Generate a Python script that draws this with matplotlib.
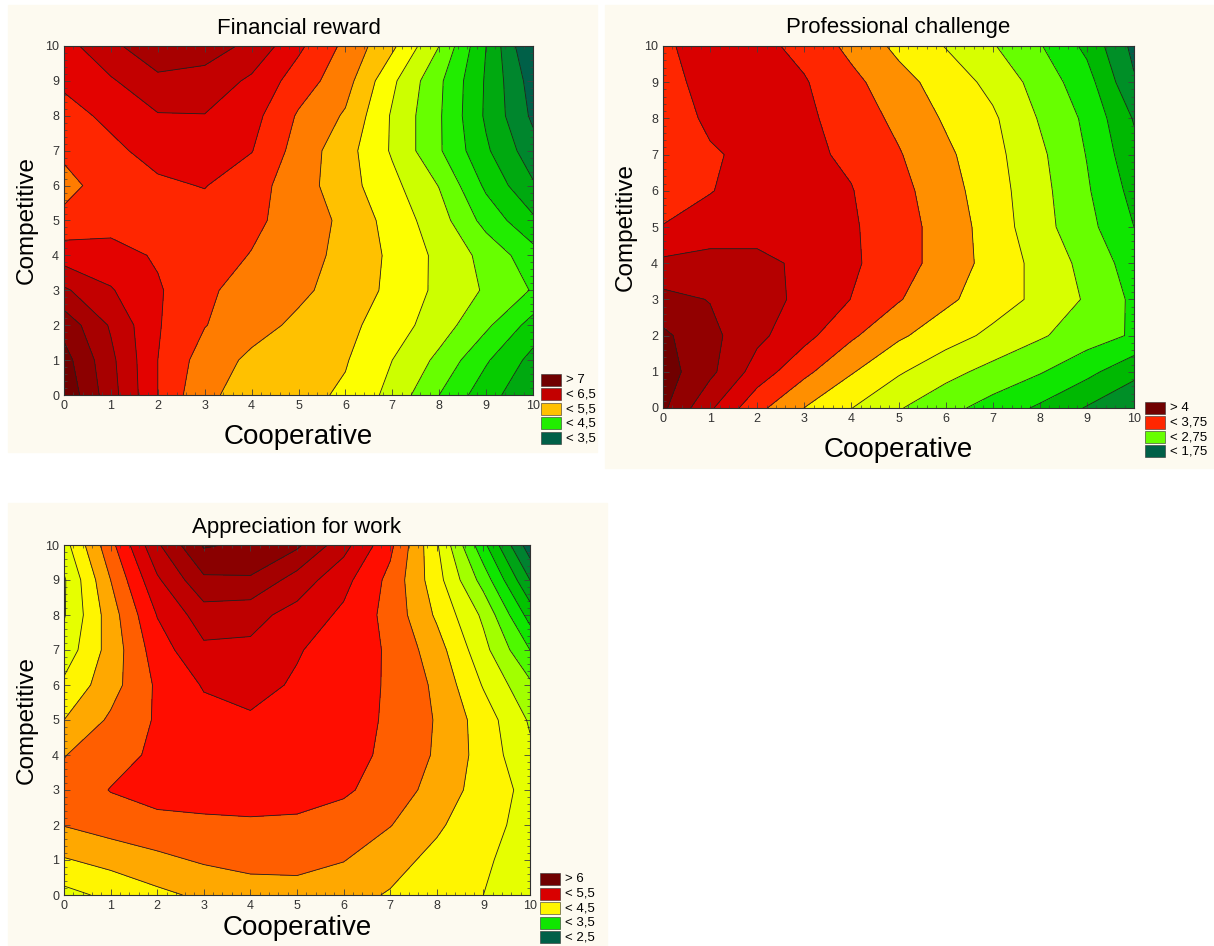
import numpy as np
import matplotlib.pyplot as plt
from matplotlib.colors import LinearSegmentedColormap
from matplotlib.patches import Rectangle
from matplotlib.ticker import MultipleLocator

plt.rcParams['font.family'] = ['Liberation Sans', 'DejaVu Sans']

# grid: columns = Cooperative 0..10, rows = Competitive 0..10
coop = [0, 1, 2, 3, 4, 5, 6, 7, 8, 9, 10]
comp = [0, 1, 2, 3, 4, 5, 6, 7, 8, 9, 10]

financial = [
    [7.20, 6.60, 6.00, 5.54, 5.42, 5.33, 5.21, 4.92, 4.50, 4.10, 3.80],
    [7.10, 6.56, 6.00, 5.63, 5.45, 5.36, 5.27, 5.00, 4.69, 4.28, 3.92],
    [6.91, 6.47, 6.02, 5.76, 5.59, 5.45, 5.32, 5.12, 4.87, 4.55, 4.15],
    [6.54, 6.27, 6.03, 5.79, 5.66, 5.55, 5.40, 5.19, 4.94, 4.72, 4.48],
    [6.13, 6.10, 5.97, 5.85, 5.74, 5.60, 5.43, 5.20, 4.94, 4.67, 4.35],
    [5.83, 5.90, 5.90, 5.90, 5.80, 5.65, 5.44, 5.15, 4.86, 4.41, 4.05],
    [5.65, 5.90, 5.96, 6.01, 5.85, 5.62, 5.35, 5.07, 4.74, 4.20, 3.78],
    [5.81, 5.95, 6.08, 6.12, 6.01, 5.65, 5.35, 4.97, 4.53, 4.04, 3.60],
    [5.92, 6.05, 6.23, 6.24, 6.09, 5.72, 5.47, 4.97, 4.53, 3.96, 3.45],
    [6.04, 6.22, 6.45, 6.42, 6.20, 5.88, 5.60, 5.05, 4.55, 3.97, 3.38],
    [6.15, 6.45, 6.65, 6.60, 6.45, 6.05, 5.69, 5.30, 4.75, 4.00, 3.20],
]

professional = [
    [4.55, 4.04, 3.57, 3.247, 3.005, 2.77, 2.58, 2.40, 2.21, 1.98, 1.78],
    [4.62, 4.31, 3.89, 3.56, 3.27, 3.03, 2.83, 2.67, 2.52, 2.32, 2.07],
    [4.55, 4.32, 4.06, 3.83, 3.54, 3.29, 3.11, 2.94, 2.78, 2.62, 2.47],
    [4.33, 4.24, 4.10, 3.94, 3.745, 3.52, 3.30, 3.12, 2.94, 2.72, 2.45],
    [4.05, 4.10, 4.08, 3.94, 3.79, 3.61, 3.39, 3.16, 2.92, 2.67, 2.38],
    [3.76, 3.85, 3.88, 3.87, 3.78, 3.61, 3.39, 3.14, 2.84, 2.58, 2.25],
    [3.62, 3.74, 3.85, 3.83, 3.76, 3.58, 3.35, 3.11, 2.83, 2.53, 2.17],
    [3.60, 3.72, 3.82, 3.80, 3.71, 3.52, 3.30, 3.08, 2.80, 2.49, 2.08],
    [3.60, 3.80, 3.85, 3.80, 3.64, 3.44, 3.22, 3.04, 2.73, 2.45, 1.98],
    [3.68, 3.82, 3.85, 3.77, 3.57, 3.34, 3.14, 2.93, 2.65, 2.35, 1.78],
    [3.72, 3.83, 3.82, 3.68, 3.43, 3.19, 2.99, 2.77, 2.52, 2.19, 1.68],
]

appreciation = [
    [3.92, 4.06, 4.19, 4.30, 4.38, 4.40, 4.33, 4.23, 4.11, 4.00, 3.88],
    [4.23, 4.33, 4.44, 4.53, 4.58, 4.58, 4.51, 4.34, 4.18, 4.03, 3.90],
    [4.51, 4.61, 4.67, 4.69, 4.71, 4.70, 4.63, 4.51, 4.29, 4.08, 3.92],
    [4.58, 4.76, 4.85, 4.88, 4.88, 4.86, 4.79, 4.63, 4.41, 4.13, 3.93],
    [4.49, 4.65, 4.80, 4.90, 4.92, 4.92, 4.85, 4.69, 4.47, 4.15, 3.80],
    [4.25, 4.54, 4.78, 4.92, 4.97, 4.92, 4.84, 4.72, 4.48, 4.13, 3.72],
    [4.05, 4.40, 4.79, 5.02, 5.08, 4.97, 4.87, 4.72, 4.45, 3.98, 3.55],
    [3.85, 4.35, 4.88, 5.20, 5.20, 5.02, 4.88, 4.72, 4.36, 3.83, 3.25],
    [3.73, 4.38, 5.01, 5.38, 5.33, 5.16, 4.95, 4.67, 4.21, 3.70, 2.90],
    [3.72, 4.50, 5.21, 5.70, 5.72, 5.39, 5.08, 4.68, 4.10, 3.40, 2.50],
    [3.90, 4.67, 5.46, 6.03, 5.95, 5.80, 5.34, 4.81, 4.03, 3.07, 2.10],
]

fin_levels = [3.5, 3.75, 4.0, 4.25, 4.5, 4.75, 5.0, 5.25, 5.5, 5.75, 6.0, 6.25, 6.5, 6.75, 7.0]
prof_levels = [1.75, 2.0, 2.25, 2.5, 2.75, 3.0, 3.25, 3.5, 3.75, 4.0, 4.25, 4.5]
appr_levels = [2.25, 2.5, 2.75, 3.0, 3.25, 3.5, 3.75, 4.0, 4.25, 4.5, 4.75, 5.0, 5.25, 5.5, 5.75, 6.0]

fin_legend = ['> 7', '< 6,5', '< 5,5', '< 4,5', '< 3,5']
fin_legend_band = [0, 3, 7, 11, 15]
prof_legend = ['> 4', '< 3,75', '< 2,75', '< 1,75']
prof_legend_band = [0, 4, 8, 12]
appr_legend = ['> 6', '< 5,5', '< 4,5', '< 3,5', '< 2,5']
appr_legend_band = [0, 4, 8, 12, 16]

spectrum = LinearSegmentedColormap.from_list('statistica', [
    (0.00, '#700000'), (0.25, '#d80000'), (0.31, '#ff0800'),
    (0.40, '#ff7c00'), (0.43, '#ffa000'), (0.47, '#ffc400'),
    (0.50, '#fff400'), (0.53, '#ffff00'),
    (0.60, '#ccff00'), (0.667, '#66ff00'), (0.75, '#10e800'),
    (0.83, '#00bb00'), (0.92, '#008e28'), (1.00, '#006048')])

W, H = 1214, 946
fig = plt.figure(figsize=(W / 100, H / 100), dpi=100)
cream = '#fdfaf0'


def fx(px):
    return px / W


def fy(py):
    return 1 - py / H


# cream panel backgrounds
for x0, y0, x1, y1 in [(8, 5, 597, 452), (605, 5, 1214, 468), (8, 503, 607, 946)]:
    fig.add_artist(Rectangle((fx(x0), fy(y1)), fx(x1) - fx(x0), fy(y0) - fy(y1),
                             transform=fig.transFigure, color=cream, zorder=-10))


def panel(box, z, levels, title, labels, bands, leg_x, leg_y, xpad=9):
    left, top, right, bottom = box
    ax = fig.add_axes([fx(left), fy(bottom), fx(right) - fx(left), fy(top) - fy(bottom)])
    n = len(levels) + 1
    band_cols = [spectrum(k / (n - 1)) for k in range(n)]  # 0 = highest band
    edges = [-100] + list(levels) + [100]
    ax.contourf(coop, comp, np.array(z), levels=edges, colors=band_cols[::-1])
    ax.contour(coop, comp, np.array(z), levels=levels, colors='#202020', linewidths=0.6)
    ax.set_xlim(0, 10)
    ax.set_ylim(0, 10)
    ax.xaxis.set_major_locator(MultipleLocator(1))
    ax.yaxis.set_major_locator(MultipleLocator(1))
    ax.xaxis.set_minor_locator(MultipleLocator(0.2))
    ax.yaxis.set_minor_locator(MultipleLocator(0.2))
    ax.tick_params(which='both', direction='in', top=True, right=True,
                   colors='#404040', labelsize=9, labelcolor='#333333')
    ax.tick_params(which='major', length=4, width=0.6)
    ax.tick_params(which='minor', length=2, width=0.5)
    for s in ax.spines.values():
        s.set_linewidth(0.8)
        s.set_color('#303030')
    ax.set_title(title, fontsize=16, pad=9)
    ax.set_xlabel('Cooperative', fontsize=20, labelpad=xpad)
    ax.set_ylabel('Competitive', fontsize=17.5, labelpad=5)
    step = 14.5
    for i, (lab, b) in enumerate(zip(labels, bands)):
        yy = leg_y + i * step
        fig.add_artist(Rectangle((fx(leg_x), fy(yy + 6)), fx(20), 12 / H,
                                 transform=fig.transFigure, facecolor=band_cols[b],
                                 edgecolor='#303030', linewidth=0.4))
        fig.text(fx(leg_x + 25), fy(yy), lab, fontsize=9.5, va='center', ha='left')
    return ax


panel((64, 46, 533, 395), financial, fin_levels, 'Financial reward',
      fin_legend, fin_legend_band, 541, 380)
panel((663, 46, 1134, 408), professional, prof_levels, 'Professional challenge',
      prof_legend, prof_legend_band, 1145, 408)
panel((64, 545, 530, 895), appreciation, appr_levels, 'Appreciation for work',
      appr_legend, appr_legend_band, 540, 879, xpad=2)

fig.savefig('out.png', dpi=100, facecolor='white')
